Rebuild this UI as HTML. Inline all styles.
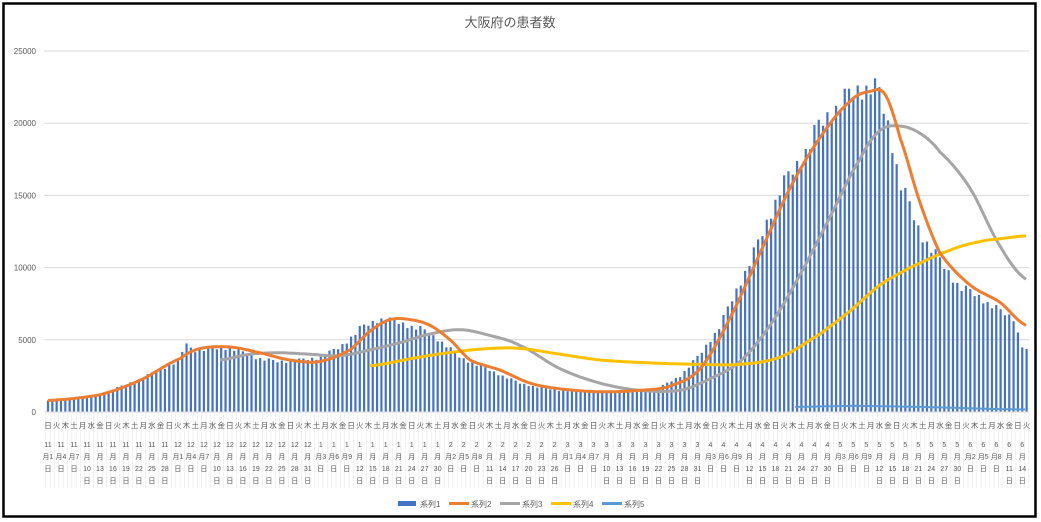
<!DOCTYPE html>
<html><head><meta charset="utf-8"><style>
body{margin:0;background:#fff;}
svg{display:block;font-family:"Liberation Sans","Noto Sans CJK JP",sans-serif;}
</style></head><body>
<svg id="c" width="1041" height="522" xmlns="http://www.w3.org/2000/svg"></svg>
<script>
const s=document.getElementById('c');
let h='';
h+='<rect x="0" y="0" width="1041" height="522" fill="#fff"/>';
h+='<rect x="3.5" y="3.5" width="1032" height="513" fill="none" stroke="#000" stroke-width="2.5"/>';
h+='<text x="510" y="27" font-size="13" fill="#595959" text-anchor="middle">大阪府の患者数</text>';
const X0=48,DX=4.33,Y0=412,SC=72.2/5000;
const y=v=>Y0-v*SC;
for(let k=0;k<=5;k++){const yy=y(k*5000);
h+=`<line x1="44" x2="1029" y1="${yy}" y2="${yy}" stroke="#d9d9d9" stroke-width="1"/>`;
h+=`<text x="36" y="${yy+3}" font-size="8" fill="#595959" text-anchor="end">${k*5000}</text>`;}
function interp(pts,x){if(x<pts[0][0]||x>pts[pts.length-1][0])return null;
for(let i=0;i<pts.length-1;i++){if(x>=pts[i][0]&&x<=pts[i+1][0]){
const p0=pts[Math.max(0,i-1)][1],p1=pts[i][1],p2=pts[i+1][1],p3=pts[Math.min(pts.length-1,i+2)][1];
const t=(x-pts[i][0])/(pts[i+1][0]-pts[i][0]);const t2=t*t,t3=t2*t;
return 0.5*((2*p1)+(-p0+p2)*t+(2*p0-5*p1+4*p2-p3)*t2+(-p0+3*p1-3*p2+p3)*t3);}}return pts[pts.length-1][1];}
function lin(pts,x){if(x<pts[0][0]||x>pts[pts.length-1][0])return null;
for(let i=0;i<pts.length-1;i++){if(x>=pts[i][0]&&x<=pts[i+1][0]){const t=(x-pts[i][0])/(pts[i+1][0]-pts[i][0]);return pts[i][1]+t*(pts[i+1][1]-pts[i][1]);}}return pts[pts.length-1][1];}
const s1=[[48,800],[100,1200],[140,2300],[180,3600],[186,4900],[192,4300],[230,4500],[250,3900],[275,3500],[300,3600],[320,3800],[340,4500],[360,5800],[380,6500],[400,6200],[420,5800],[440,5000],[460,3800],[480,3200],[500,2600],[520,2000],[540,1700],[560,1500],[600,1400],[640,1500],[660,1700],[680,2500],[700,4000],[720,6000],[740,9000],[760,12000],[780,15500],[800,17500],[820,20000],[840,21500],[860,22500],[872,22700],[880,22000],[890,19500],[900,16000],[920,12500],[940,10500],[960,8700],[980,8000],[1000,7000],[1015,6500],[1020,4800],[1027,4200]];
const N=227;
for(let i=0;i<N;i++){const x=X0+i*DX;let v=lin(s1,x);if(v==null)continue;
const w=[1,0.97,1.03,1.02,0.98,1.01,0.96][i%7];v*=w;
h+=`<rect x="${x-1.1}" y="${y(v)}" width="2.2" height="${v*SC}" fill="#4472c4"/>`;}
function line(pts,col,wd){let d='';for(let x=pts[0][0];x<=pts[pts.length-1][0];x+=2){d+=(d?'L':'M')+x+','+y(interp(pts,x)).toFixed(1);}
h+=`<path d="${d}" fill="none" stroke="${col}" stroke-width="${wd}" stroke-linejoin="round"/>`;}
line([[220,3600],[250,4000],[280,4100],[310,4000],[340,3900],[370,4300],[400,4800],[430,5400],[460,5700],[490,5300],[520,4600],[560,3000],[600,2000],[640,1500],[680,1500],[710,2300],[740,3500],[770,6000],[800,9500],[830,13500],[860,17500],[880,19500],[900,19800],[920,19300],[940,18000],[970,15500],[1000,11500],[1026,9200]],'#a5a5a5',3);
line([[370,3200],[420,3800],[460,4200],[490,4400],[520,4400],[560,4000],[600,3600],[650,3400],[700,3300],[740,3300],[780,3800],[820,5400],[850,7000],[880,8800],[910,10000],[950,11200],[980,11800],[1000,12000],[1026,12200]],'#ffc000',3);
line([[48,800],[100,1200],[140,2200],[180,3700],[200,4400],[230,4500],[260,4100],[290,3600],[320,3500],[350,4300],[370,5600],[390,6400],[410,6400],[430,6000],[450,5000],[470,3600],[500,2900],[530,2000],[560,1600],[600,1400],[640,1500],[670,1800],[700,3000],[730,6500],[760,11000],[790,15500],[820,19000],[850,21500],[870,22200],[885,22000],[900,19000],[920,14500],[940,11000],[970,8800],[1000,7600],[1026,6000]],'#ed7d31',3);
line([[795,350],[850,420],[900,380],[950,300],[1000,200],[1026,180]],'#5b9bd5',2);
h+=`<line x1="44" x2="1029" y1="${Y0}" y2="${Y0}" stroke="#d9d9d9"/>`;
for(let i=0;i<=N;i++){const x=X0+(i-0.5)*DX;h+=`<line x1="${x}" x2="${x}" y1="${Y0}" y2="488" stroke="#e6e6e6" stroke-width="0.6"/>`;}
const wd=['日','月','火','水','木','金','土'];
const start=new Date(2020,10,1);
for(let i=0;i<N;i++){const x=X0+i*DX;const d=new Date(start.getTime()+i*86400000);
if(i%2==0)h+=`<text x="${x}" y="428" font-size="7.5" fill="#595959" text-anchor="middle">${wd[d.getDay()]}</text>`;
if(i%3==0){const m=d.getMonth()+1,dd=d.getDate();let rows=[String(m), dd<10?'月'+dd:'月'];if(dd>=10)rows.push(String(dd));rows.push('日');
rows.forEach((r,k)=>{h+=`<text x="${x}" y="${447+k*12}" font-size="7" fill="#595959" text-anchor="middle">${r}</text>`;});}}
const lg=[['系列1','#4472c4',1],['系列2','#ed7d31',0],['系列3','#a5a5a5',0],['系列4','#ffc000',0],['系列5','#5b9bd5',0]];
lg.forEach((l,k)=>{const x=398+k*51;
if(l[2])h+=`<rect x="${x}" y="501" width="18" height="5" fill="${l[1]}"/>`;else h+=`<line x1="${x}" x2="${x+20}" y1="503.5" y2="503.5" stroke="${l[1]}" stroke-width="3"/>`;
h+=`<text x="${x+22}" y="507" font-size="8" fill="#595959">${l[0]}</text>`;});
s.innerHTML=h;
</script>
</body></html>
